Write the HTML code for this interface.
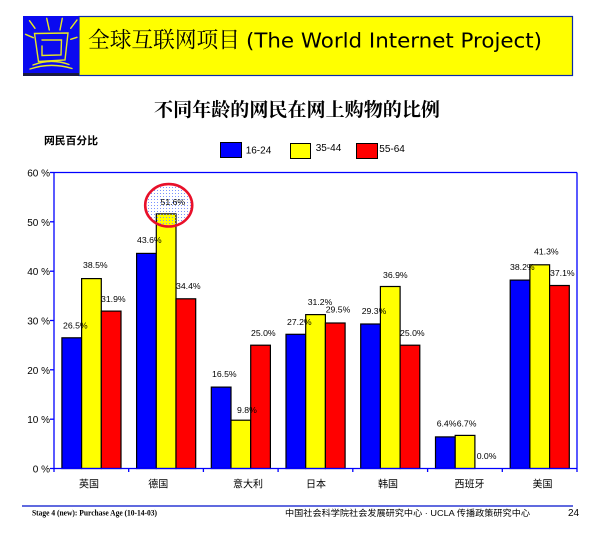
<!DOCTYPE html>
<html>
<head>
<meta charset="utf-8">
<style>
html,body{margin:0;padding:0;background:#fff;}
svg{display:block;}
</style>
</head>
<body>
<svg width="600" height="540" viewBox="0 0 600 540" xmlns="http://www.w3.org/2000/svg">
<defs>
<pattern id="dots" x="0" y="0" width="3" height="3" patternUnits="userSpaceOnUse">
<rect x="1" y="1" width="1" height="1" fill="#7a92ff"/>
</pattern>
</defs>
<rect width="600" height="540" fill="#fff"/>

<!-- Banner -->
<rect x="79" y="16.5" width="493.5" height="59" fill="#ffff00" stroke="#0a2aa8" stroke-width="1.2"/>
<rect x="23" y="16" width="56" height="60" fill="#0a0af0"/>
<rect x="23" y="73" width="56" height="3" fill="#1a1a40"/>
<g stroke="#e8e820" stroke-width="1.4" fill="none" stroke-linecap="round">
<line x1="29.5" y1="20.7" x2="35" y2="28.3"/>
<line x1="46.7" y1="18.3" x2="49.3" y2="30"/>
<line x1="62.3" y1="18.3" x2="60" y2="30"/>
<line x1="77" y1="20" x2="70.7" y2="28.3"/>
<line x1="25.5" y1="34.3" x2="33.3" y2="37.7"/>
<line x1="77" y1="37.3" x2="70.7" y2="39.3"/>
<path d="M34.5 33.5 L68 33 L65 60 L38.5 61.5 Z"/>
<path d="M42 40 L61.5 40 L61 55 L42 55.5 L42 46"/>
<path d="M33 65 Q51 58 69 64.5"/>
<path d="M30 69 Q51 62 72 68.5"/>
</g>
<text x="88" y="47.5" font-family="'Noto Serif CJK SC','Noto Sans CJK SC',serif" font-size="22" textLength="152" lengthAdjust="spacingAndGlyphs" fill="#000">全球互联网项目</text>
<text x="246" y="47.7" font-family="'DejaVu Sans','Liberation Sans',sans-serif" font-size="20.5" textLength="296" lengthAdjust="spacingAndGlyphs" fill="#000">(The World Internet Project)</text>

<!-- Chart title -->
<text x="154" y="116" font-family="'Liberation Serif','Noto Serif CJK SC',serif" font-size="19" font-weight="bold" textLength="286" lengthAdjust="spacingAndGlyphs" fill="#000">不同年龄的网民在网上购物的比例</text>

<text x="44" y="144" font-family="'Liberation Sans','Noto Sans CJK SC',sans-serif" font-size="10.5" font-weight="bold" textLength="54" lengthAdjust="spacingAndGlyphs" fill="#000">网民百分比</text>

<!-- Legend -->
<g font-family="'Liberation Sans',Arial,sans-serif" font-size="10" fill="#000">
<rect x="220.5" y="142.5" width="21" height="15" fill="#0000ff" stroke="#000" stroke-width="1"/>
<text x="245.7" y="153.5">16-24</text>
<rect x="290.5" y="143.5" width="20" height="15" fill="#ffff00" stroke="#000" stroke-width="1"/>
<text x="315.7" y="150.8">35-44</text>
<rect x="356.5" y="143.5" width="21" height="15" fill="#ff0000" stroke="#000" stroke-width="1"/>
<text x="379.3" y="151.8">55-64</text>
</g>

<!-- Bars -->
<g stroke="#000" stroke-width="1.2">
<rect x="61.9" y="337.8" width="19.7" height="130.7" fill="#0000ff"/>
<rect x="81.6" y="278.6" width="19.7" height="189.9" fill="#ffff00"/>
<rect x="101.3" y="311.1" width="19.7" height="157.4" fill="#ff0000"/>
<rect x="136.6" y="253.4" width="19.7" height="215.1" fill="#0000ff"/>
<rect x="156.3" y="213.9" width="19.7" height="254.6" fill="#ffff00"/>
<rect x="176.0" y="298.8" width="19.7" height="169.7" fill="#ff0000"/>
<rect x="211.3" y="387.1" width="19.7" height="81.4" fill="#0000ff"/>
<rect x="231.0" y="420.2" width="19.7" height="48.3" fill="#ffff00"/>
<rect x="250.7" y="345.2" width="19.7" height="123.3" fill="#ff0000"/>
<rect x="286.0" y="334.3" width="19.7" height="134.2" fill="#0000ff"/>
<rect x="305.7" y="314.6" width="19.7" height="153.9" fill="#ffff00"/>
<rect x="325.4" y="323.0" width="19.7" height="145.5" fill="#ff0000"/>
<rect x="360.7" y="324.0" width="19.7" height="144.5" fill="#0000ff"/>
<rect x="380.4" y="286.5" width="19.7" height="182.0" fill="#ffff00"/>
<rect x="400.1" y="345.2" width="19.7" height="123.3" fill="#ff0000"/>
<rect x="435.5" y="436.9" width="19.7" height="31.6" fill="#0000ff"/>
<rect x="455.2" y="435.4" width="19.7" height="33.1" fill="#ffff00"/>
<rect x="510.2" y="280.1" width="19.7" height="188.4" fill="#0000ff"/>
<rect x="529.9" y="264.8" width="19.7" height="203.7" fill="#ffff00"/>
<rect x="549.6" y="285.5" width="19.7" height="183.0" fill="#ff0000"/>
</g>

<!-- Highlight ellipse -->
<ellipse cx="168.7" cy="205.3" rx="23.5" ry="21.2" fill="url(#dots)" stroke="#e8102a" stroke-width="2.6"/>

<!-- Frame / axes -->
<g stroke="#0000ff" stroke-width="1.3" fill="none">
<line x1="54" y1="172.5" x2="577" y2="172.5"/>
<line x1="577" y1="172.5" x2="577" y2="472"/>
<line x1="54" y1="172.5" x2="54" y2="472"/>
<line x1="50" y1="468.5" x2="577" y2="468.5"/>
<line x1="50" y1="172.5" x2="54" y2="172.5"/>
<line x1="50" y1="221.8" x2="54" y2="221.8"/>
<line x1="50" y1="271.2" x2="54" y2="271.2"/>
<line x1="50" y1="320.5" x2="54" y2="320.5"/>
<line x1="50" y1="369.8" x2="54" y2="369.8"/>
<line x1="50" y1="419.2" x2="54" y2="419.2"/>
<line x1="128.7" y1="468.5" x2="128.7" y2="472"/>
<line x1="203.4" y1="468.5" x2="203.4" y2="472"/>
<line x1="278.1" y1="468.5" x2="278.1" y2="472"/>
<line x1="352.8" y1="468.5" x2="352.8" y2="472"/>
<line x1="427.6" y1="468.5" x2="427.6" y2="472"/>
<line x1="502.3" y1="468.5" x2="502.3" y2="472"/>
</g>

<!-- Y labels -->
<g font-family="'Liberation Sans',Arial,sans-serif" font-size="10" fill="#000" text-anchor="end">
<text x="50" y="176.5">60 %</text>
<text x="50" y="225.8">50 %</text>
<text x="50" y="275.2">40 %</text>
<text x="50" y="324.5">30 %</text>
<text x="50" y="373.8">20 %</text>
<text x="50" y="423.2">10 %</text>
<text x="50" y="472.5">0 %</text>
</g>

<!-- Value labels -->
<g font-family="'Liberation Sans',Arial,sans-serif" font-size="8.7" fill="#000">
<text x="63" y="328.3">26.5%</text>
<text x="83" y="268">38.5%</text>
<text x="101" y="302">31.9%</text>
<text x="137" y="243">43.6%</text>
<text x="160.5" y="205">51.6%</text>
<text x="176" y="289">34.4%</text>
<text x="212" y="377">16.5%</text>
<text x="237" y="413">9.8%</text>
<text x="251" y="336">25.0%</text>
<text x="287" y="325">27.2%</text>
<text x="307.7" y="305">31.2%</text>
<text x="325.7" y="312.7">29.5%</text>
<text x="361.7" y="314">29.3%</text>
<text x="383" y="278">36.9%</text>
<text x="400" y="336">25.0%</text>
<text x="436.7" y="426.7">6.4%</text>
<text x="456.7" y="426.7">6.7%</text>
<text x="476.7" y="459">0.0%</text>
<text x="510" y="270">38.2%</text>
<text x="534" y="254.3">41.3%</text>
<text x="550" y="276">37.1%</text>
</g>

<!-- Category labels -->
<g font-family="'Liberation Sans','Noto Sans CJK SC',sans-serif" font-size="10" fill="#000" text-anchor="middle">
<text x="89" y="487.5">英国</text>
<text x="158.3" y="487.5">德国</text>
<text x="248" y="487.5">意大利</text>
<text x="316" y="487.5">日本</text>
<text x="388" y="487.5">韩国</text>
<text x="469.5" y="487.5">西班牙</text>
<text x="542.5" y="487.5">美国</text>
</g>

<!-- Footer -->
<line x1="22" y1="506" x2="573" y2="506" stroke="#0010cc" stroke-width="1.3"/>
<text x="32" y="515.5" font-family="'Liberation Serif',serif" font-size="8" font-weight="bold" textLength="125" lengthAdjust="spacingAndGlyphs" fill="#000">Stage 4 (new): Purchase Age (10-14-03)</text>
<text x="285" y="516" font-family="'Liberation Sans','Noto Sans CJK SC',sans-serif" font-size="8.6" textLength="245" lengthAdjust="spacingAndGlyphs" fill="#000">中国社会科学院社会发展研究中心 · UCLA 传播政策研究中心</text>
<text x="568" y="516" font-family="'Liberation Sans',Arial,sans-serif" font-size="10" fill="#000">24</text>
</svg>
</body>
</html>
